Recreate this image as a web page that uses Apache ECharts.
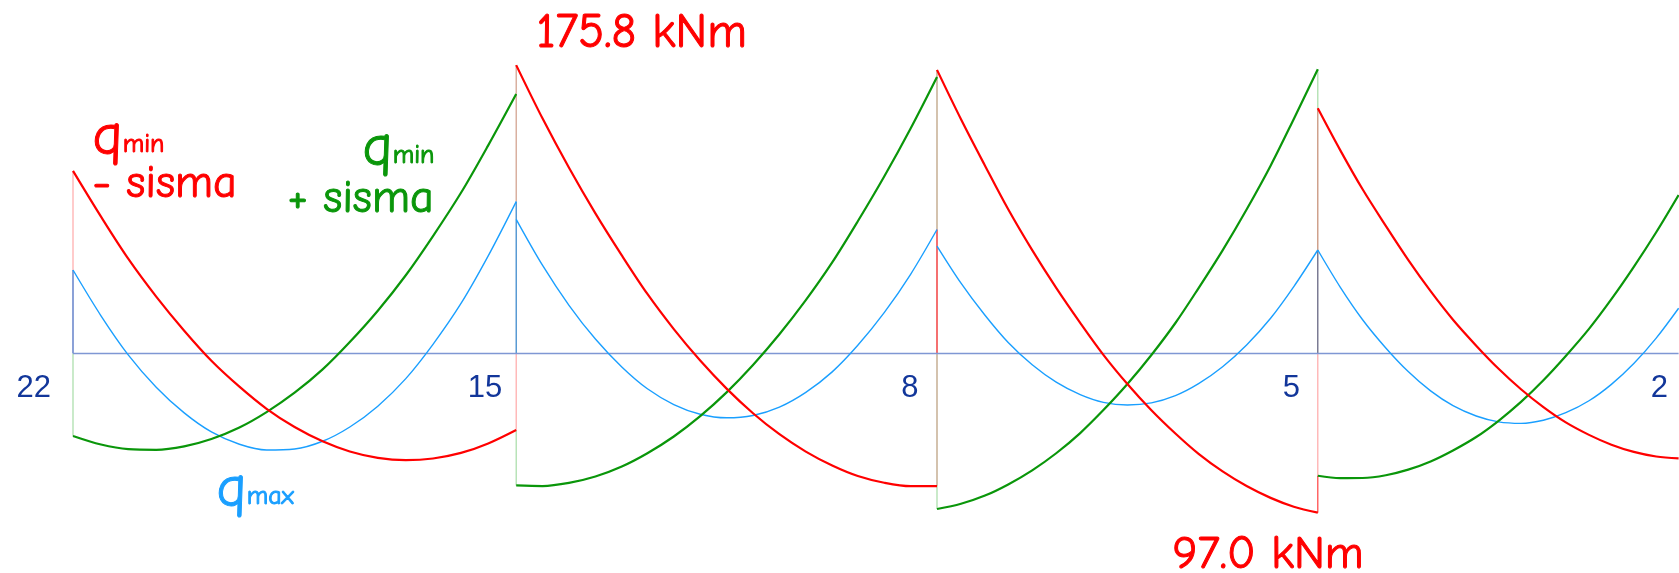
<!DOCTYPE html>
<html>
<head>
<meta charset="utf-8">
<style>
  html, body { margin: 0; padding: 0; background: #fff; }
  #main { width: 1679px; height: 573px; }
</style>
<script src="https://cdn.jsdelivr.net/npm/echarts@6/dist/echarts.min.js"></script>
</head>
<body>
<div id="main"></div>
<script>
// stations along the beam, metres from support 22 (last span runs off the picture)
var span1X = [0, 0.35, 0.69, 1.04, 1.39, 1.73, 2.08, 2.42, 2.77, 3.12, 3.46, 3.81, 4.16, 4.50, 4.85, 5.19, 5.54];
var span2X = [5.54, 5.87, 6.20, 6.53, 6.86, 7.18, 7.51, 7.84, 8.17, 8.50, 8.83, 9.16, 9.49, 9.81, 10.14, 10.47, 10.80];
var span3X = [10.80, 11.10, 11.40, 11.69, 11.99, 12.29, 12.59, 12.88, 13.18, 13.48, 13.78, 14.07, 14.37, 14.67, 14.97, 15.26, 15.56];
var span4X = [15.56, 15.84, 16.12, 16.41, 16.69, 16.97, 17.25, 17.54, 17.82, 18.10, 18.38, 18.66, 18.95, 19.23, 19.51, 19.79, 20.07];

// bending moment, kNm
var redSpan1 = [111.3, 83.4, 57.8, 34.7, 13.9, -4.4, -20.2, -33.7, -44.8, -53.5, -59.7, -63.6, -65.0, -64.0, -60.6, -54.8, -46.6];
var redSpan2 = [175.8, 143.2, 113.2, 85.4, 59.8, 36.3, 14.9, -4.3, -21.4, -36.4, -49.2, -59.8, -68.3, -74.7, -78.8, -80.9, -80.8];
var redSpan3 = [172.9, 142.8, 114.5, 87.9, 63.0, 40.0, 18.7, -0.8, -18.6, -34.6, -48.8, -61.2, -71.9, -80.8, -88.0, -93.4, -97.0];
var redSpan4 = [149.5, 124.0, 100.1, 77.8, 57.1, 38.0, 20.6, 4.8, -9.3, -21.8, -32.7, -42.0, -49.6, -55.6, -60.0, -62.8, -63.9];

var greenSpan1 = [-50.3, -55.5, -58.3, -58.7, -56.6, -52.1, -45.1, -35.7, -23.9, -9.7, 7.0, 26.1, 47.7, 71.6, 98.0, 126.9, 158.2];
var greenSpan2 = [-80.4, -80.8, -78.9, -75.0, -68.9, -60.8, -50.6, -38.2, -23.7, -7.0, 11.7, 32.5, 55.5, 80.6, 107.9, 137.2, 168.6];
var greenSpan3 = [-94.8, -91.6, -86.6, -79.8, -71.2, -60.8, -48.5, -34.5, -18.6, -0.9, 18.6, 39.9, 62.9, 87.8, 114.5, 143.0, 173.3];
var greenSpan4 = [-74.5, -76.0, -75.9, -74.2, -70.8, -65.8, -59.1, -50.9, -41.0, -29.5, -16.3, -1.5, 15.0, 33.1, 52.8, 73.9, 96.6];

var blueSpan1 = [50.9, 23.0, -0.8, -20.5, -36.2, -47.8, -55.3, -58.8, -58.2, -53.5, -44.8, -32.1, -15.3, 5.6, 30.5, 59.5, 92.6];
var blueSpan2 = [81.8, 53.7, 29.4, 8.8, -8.2, -21.5, -31.1, -37.0, -39.2, -37.8, -32.7, -23.7, -11.2, 5.0, 24.9, 48.3, 75.6];
var blueSpan3 = [65.5, 42.9, 23.3, 6.7, -6.9, -17.5, -25.1, -29.8, -31.4, -30.1, -25.7, -18.4, -8.1, 5.2, 21.5, 40.8, 63.1];
var blueSpan4 = [63.1, 40.5, 20.6, 3.4, -11.0, -22.8, -31.8, -38.1, -41.7, -42.6, -40.7, -36.1, -28.8, -18.8, -6.1, 9.4, 27.6];

// thin verticals at the supports: x, from, to
var stems = [
  [0, 111.3, 50.9], [0, 50.9, 0], [0, 0, -50.3],
  [5.54, 175.8, 92.6], [5.54, 92.6, 0], [5.54, 0, -46.6], [5.54, -46.6, -80.4],
  [10.80, 172.9, 75.6], [10.80, 75.6, 0], [10.80, 0, -80.8], [10.80, -80.8, -94.8],
  [15.56, 173.3, 149.5], [15.56, 149.5, 63.1], [15.56, 63.1, 0], [15.56, 0, -74.5], [15.56, -74.5, -97.0]
];
var stemColors = [
  '#ffa8a8', '#3f63bd', '#a6dca6',
  '#d09c88', '#2f80c8', '#ffa8a8', '#a6dca6',
  '#b89a78', '#ee1111', '#b89a78', '#a6dca6',
  '#a6dca6', '#c48a70', '#5a5a78', '#ffa8a8', '#ff4040'
];

var baseX = [0, 20.07];
var supportNames = ['22', '15', '8', '5', '2'];
var supportNameX = [-0.49, 5.15, 10.46, 15.23, 19.83];
var supportNameY = -21;

function joinSpans(spans) {
  // one line per colour, '-' breaks it at each support
  var out = [];
  for (var i = 0; i < spans.length; i++) {
    var xs = spans[i][0], ys = spans[i][1];
    for (var j = 0; j < xs.length; j++) {
      out.push([xs[j], ys[j]]);
    }
    if (i < spans.length - 1) out.push([xs[xs.length - 1], '-']);
  }
  return out;
}

function curve(name, color, width, spans) {
  return {
    name: name,
    type: 'line',
    data: joinSpans(spans),
    smooth: 0.33,
    showSymbol: false,
    connectNulls: false,
    lineStyle: { color: color, width: width, join: 'round' },
    z: 3
  };
}

var series = [];
for (var i = 0; i < stems.length; i++) {
  series.push({
    type: 'line',
    data: [[stems[i][0], stems[i][1]], [stems[i][0], stems[i][2]]],
    showSymbol: false,
    lineStyle: { color: stemColors[i], width: 1.2 },
    z: 1
  });
}
series.push({
  type: 'line',
  data: [[baseX[0], 0], [baseX[1], 0]],
  showSymbol: false,
  lineStyle: { color: '#7f97d4', width: 1.4 },
  z: 2
});
series.push(curve('qmax', '#1a9fff', 1.4, [
  [span1X, blueSpan1], [span2X, blueSpan2], [span3X, blueSpan3], [span4X, blueSpan4]
]));
series.push(curve('qmin + sisma', '#0a960a', 2.2, [
  [span1X, greenSpan1], [span2X, greenSpan2], [span3X, greenSpan3], [span4X, greenSpan4]
]));
series.push(curve('qmin - sisma', '#ff0000', 2.2, [
  [span1X, redSpan1], [span2X, redSpan2], [span3X, redSpan3], [span4X, redSpan4]
]));
series.push({
  type: 'scatter',
  symbolSize: 1,
  itemStyle: { color: 'transparent', opacity: 1 },
  data: supportNames.map(function (n, k) {
    return { value: [supportNameX[k], supportNameY], name: n };
  }),
  label: {
    show: true,
    position: 'inside',
    formatter: '{b}',
    color: '#12369a',
    fontFamily: 'Liberation Sans',
    fontSize: 31
  },
  z: 4
});

var handFont = '"Comic Sans MS", "Comic Neue", "DejaVu Sans"';

function note(left, top, text, color, size, rich) {
  return {
    type: 'text',
    left: left,
    top: top,
    style: {
      text: text,
      fill: color,
      stroke: color,
      lineWidth: 1,
      fontFamily: handFont,
      fontSize: size,
      rich: rich
    }
  };
}
function qRich(color) {
  return {
    q: { fontSize: 58, fill: color, stroke: color, lineWidth: 1, fontFamily: handFont },
    s: { fontSize: 26, fill: color, stroke: color, lineWidth: 1, fontFamily: handFont, padding: [14, 0, 0, 0] }
  };
}

var chart = echarts.init(document.getElementById('main'));
chart.setOption({
  animation: false,
  backgroundColor: '#fff',
  grid: { left: 0, right: 0, top: 0, bottom: 0 },
  xAxis: { type: 'value', min: -0.9125, max: 20.075, show: false },
  yAxis: { type: 'value', min: -133.8, max: 215.5, show: false },
  series: series,
  graphic: [
    note(536, 9, '175.8 kNm', '#ff0000', 48),
    note(1172, 531, '97.0 kNm', '#ff0000', 47),
    note(92, 108, '{q|q}{s|min}', '#ff0000', 58, qRich('#ff0000')),
    note(92, 160, '- sisma', '#ff0000', 46),
    note(362, 119, '{q|q}{s|min}', '#0a960a', 58, qRich('#0a960a')),
    note(287, 175, '+ sisma', '#0a960a', 46),
    note(216, 460, '{q|q}{s|max}', '#1a9fff', 58, qRich('#1a9fff'))
  ]
});
</script>
</body>
</html>
